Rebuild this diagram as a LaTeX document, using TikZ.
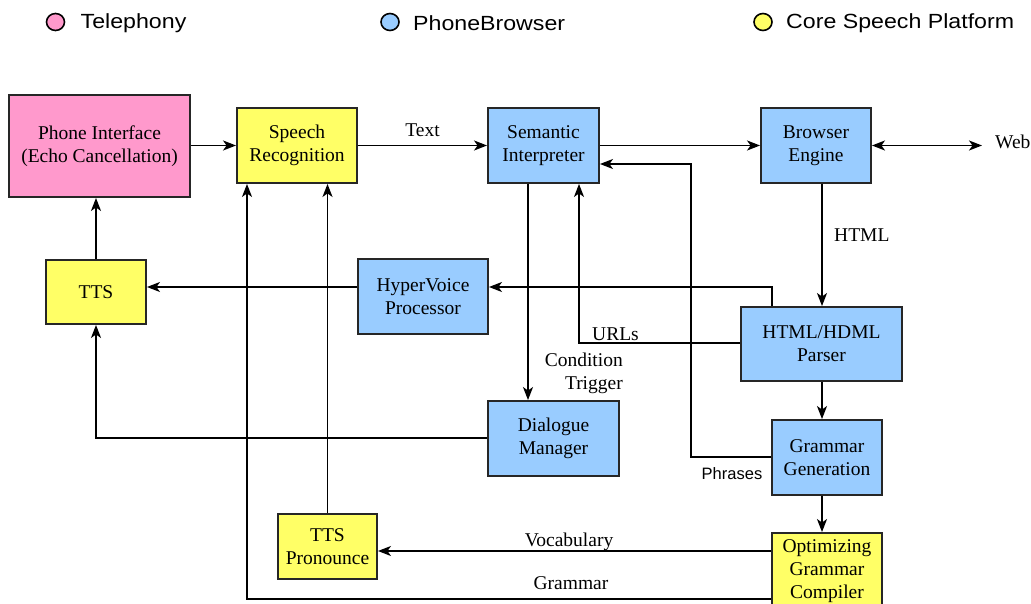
\documentclass[tikz,border=0pt]{standalone}
\usepackage{fontspec}
\setmainfont{Liberation Serif}
\newfontfamily\lsans{Liberation Sans}
\usetikzlibrary{arrows.meta}
\definecolor{telpink}{HTML}{FF99CC}
\definecolor{pbblue}{HTML}{99CCFF}
\definecolor{csyellow}{HTML}{FFFF66}
\tikzset{
  box/.style={draw=black!85, line width=1.9pt, inner sep=0pt, align=center,
    font=\fontsize{19.5}{23}\selectfont},
  pink/.style={box, fill=telpink},
  blue/.style={box, fill=pbblue},
  yel/.style={box, fill=csyellow},
  tip/.tip={Stealth[length=13pt,width=10pt,inset=3.5pt]},
  arr/.style={line width=1.7pt, -tip},
  dblarr/.style={line width=1.7pt, tip-tip},
  lbl/.style={font=\fontsize{19.5}{23}\selectfont, inner sep=0pt},
  leg/.style={font=\lsans\fontsize{20.5}{24}\selectfont, inner sep=0pt, anchor=west, xscale=1.13},
}
\begin{document}
\begin{tikzpicture}[x=1pt,y=-1pt]
\useasboundingbox (0,0) rectangle (1031,604);
% legend
\filldraw[fill=telpink, draw=black, line width=1.6pt] (55.5,22) ellipse [x radius=9, y radius=8.5];
\node[leg] (lg1) at (80.5,23.5) {Telephony};
\filldraw[fill=pbblue, draw=black, line width=1.6pt] (390,22) ellipse [x radius=9, y radius=8.5];
\node[leg] (lg2) at (413,23.5) {PhoneBrowser};
\filldraw[fill=csyellow, draw=black, line width=1.6pt] (763,22) ellipse [x radius=9, y radius=8.5];
\node[leg] (lg3) at (786,23.5) {Core Speech Platform};

% boxes
\node[pink, minimum width=181pt, minimum height=102pt] (phone) at (99.5,146) {Phone Interface\\(Echo Cancellation)};
\node[yel, minimum width=120pt, minimum height=75pt] (sr) at (297,145.5) {Speech\\Recognition};
\node[blue, minimum width=111pt, minimum height=75pt] (si) at (543.5,145.5) {Semantic\\Interpreter};
\node[blue, minimum width=110pt, minimum height=75pt] (be) at (816,145.5) {Browser\\Engine};
\node[yel, minimum width=100pt, minimum height=64pt] (tts) at (96,292) {TTS};
\node[blue, minimum width=130pt, minimum height=75pt] (hv) at (423,296.5) {HyperVoice\\Processor};
\node[blue, minimum width=161pt, minimum height=74pt] (parser) at (821.5,344) {HTML/HDML\\Parser};
\node[blue, minimum width=131pt, minimum height=75pt] (dm) at (553.5,438.5) {Dialogue\\Manager};
\node[blue, minimum width=110pt, minimum height=75pt] (gg) at (827,457.5) {Grammar\\Generation};
\node[yel, minimum width=110pt, minimum height=76pt] (ogc) at (827,571) {Optimizing\\Grammar\\Compiler};
\node[yel, minimum width=99pt, minimum height=65pt] (ttsp) at (327.5,546.5) {TTS\\Pronounce};

% helper coordinates
\coordinate (cx) at (822,0);
\coordinate (web) at (982,145.5);
\node[lbl, anchor=west] (weblbl) at (995,142) {Web};
\coordinate (ph1) at (691,457);
\coordinate (ph2) at (691,164);
\coordinate (hv1) at (772,287);
\coordinate (url1) at (579,343);
\coordinate (ct) at (528,0);
\coordinate (dm1) at (96,438);
\coordinate (voc) at (0,551);
\coordinate (gr1) at (247,599);

% connectors
\draw[arr] (sr.west -| phone.east) -- (sr.west);
\draw[arr] (sr.east) -- (si.west) node[lbl, midway, above=8pt] {Text};
\draw[arr] (si.east) -- (be.west);
\draw[dblarr] (be.east) -- (web);
\draw[arr] (gg.west |- ph1) -- (ph1) -- (ph2) -- (si.east |- ph2);
\node[font=\lsans\fontsize{16.5}{19}\selectfont, inner sep=0pt] (phr) at (732,474) {Phrases};
\draw[arr] (be.south -| cx) -- (parser.north -| cx);
\node[lbl, anchor=west] (htmllbl) at (834,235) {HTML};
\draw[arr] (tts.north) -- (tts.north |- phone.south);
\draw[arr] (hv.west |- hv1) -- (tts.east |- hv1);
\draw[arr] (parser.north -| hv1) -- (hv1) -- (hv.east |- hv1);
\draw[arr] (parser.west |- url1) -- (url1) -- (si.south -| url1);
\node[lbl, anchor=west] (urllbl) at (592,334) {URLs};
\draw[arr] (si.south -| ct) -- (dm.north -| ct);
\node[lbl, anchor=east, align=right] (condlbl) at (623,373) {Condition\\Trigger};
\draw[arr] (dm.west |- dm1) -- (dm1) -- (tts.south);
\draw[arr] (parser.south -| cx) -- (gg.north -| cx);
\draw[arr] (gg.south -| cx) -- (ogc.north -| cx);
\draw[arr] (ogc.west |- voc) -- (ttsp.east |- voc);
\node[lbl] (voclbl) at (569,542) {Vocabulary};
\draw[arr] (ttsp.north) -- (sr.south -| ttsp.north);
\draw[arr] (ogc.west |- gr1) -- (gr1) -- (sr.south -| gr1);
\node[lbl] (grlbl) at (571,583) {Grammar};
\end{tikzpicture}
\end{document}
